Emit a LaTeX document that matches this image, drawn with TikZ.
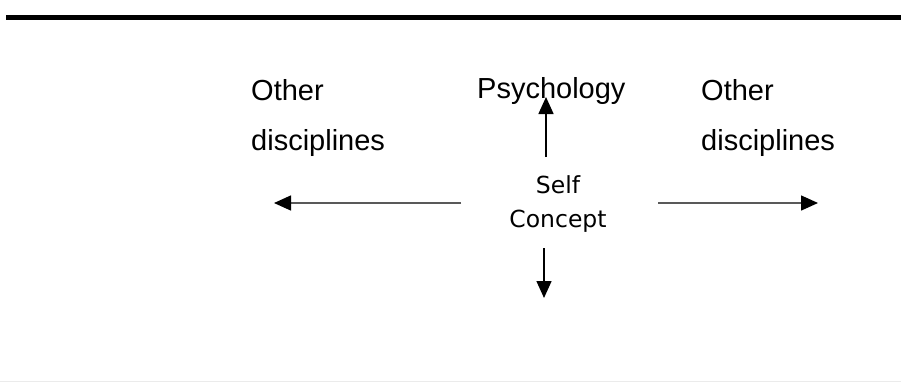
\documentclass[tikz,border=0pt]{standalone}
\usepackage{fontspec}
\setmainfont{Liberation Sans}
\newfontfamily\labelfont{DejaVu Sans}
\usetikzlibrary{arrows.meta}
\begin{document}
\begin{tikzpicture}[x=1pt,y=-1pt,
  big/.style={font=\fontsize{29}{34}\selectfont,inner sep=0pt,anchor=base west},
  small/.style={font=\labelfont\fontsize{23.5}{34}\selectfont,inner sep=0pt,align=center},
  arr/.style={line width=1.5pt,-{Triangle[length=17pt,width=15pt,color=black]}},
  side/.style={arr,draw=black!65}]
\useasboundingbox (0,0) rectangle (901,383);
% rules above and below
\draw[line width=5pt] (6,17) -- (901,17);
\draw[line width=1pt,black!8] (0,381) -- (901,381);
% labels
\node[big] (ol1) at (251,100) {Other};
\node[big] (dl1) at (251,150) {disciplines};
\node[big] (ps)  at (477,98)  {Psychology};
\node[big] (ol2) at (701,100) {Other};
\node[big] (dl2) at (701,150) {disciplines};
\node[small] (sc) at (558,204) {Self\\Concept};
% arrow ends
\coordinate (lt) at (461,203);
\coordinate (le) at (274,203);
\coordinate (rt) at (658,203);
\coordinate (re) at (818,203);
\coordinate (ut) at (546,157);
\coordinate (ue) at (546,97);
\coordinate (dt) at (544,248);
\coordinate (de) at (544,298);
% arrows
\draw[side] (lt) -- (le);
\draw[side] (rt) -- (re);
\draw[arr] (ut) -- (ue);
\draw[arr] (dt) -- (de);
\end{tikzpicture}
\end{document}
